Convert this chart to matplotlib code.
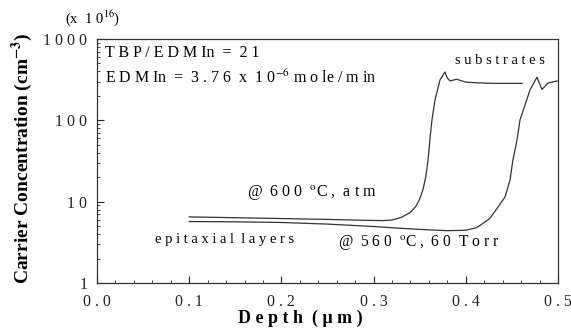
import matplotlib
matplotlib.use("Agg")
import matplotlib.pyplot as plt
from matplotlib.ticker import FixedLocator, NullFormatter, LogLocator

# Depth (um) / carrier concentration (x 1e16 cm^-3)
depth_600 = [0.100, 0.150, 0.200, 0.250, 0.290, 0.310, 0.320, 0.330, 0.340,
             0.346, 0.350, 0.3535, 0.3565, 0.359, 0.361, 0.3633, 0.3666,
             0.372, 0.3774, 0.380, 0.383, 0.390, 0.400, 0.410, 0.430, 0.461]
conc_600 = [6.5, 6.35, 6.2, 6.05, 5.9, 5.85, 5.95, 6.4, 7.4,
            8.8, 10.8, 14.0, 20.0, 32.0, 57.0, 101.0, 178.0,
            313.0, 393.0, 330.0, 305.0, 320.0, 295.0, 290.0, 285.0, 285.0]

depth_560 = [0.100, 0.150, 0.200, 0.250, 0.300, 0.330, 0.360, 0.380, 0.400,
             0.412, 0.426, 0.435, 0.4425, 0.448, 0.451, 0.4555, 0.4588,
             0.4696, 0.4772, 0.4826, 0.4892, 0.499]
conc_560 = [5.7, 5.65, 5.55, 5.3, 4.95, 4.7, 4.5, 4.4, 4.45,
            4.8, 6.2, 8.6, 11.4, 18.5, 32.0, 57.0, 101.0,
            236.0, 340.0, 240.0, 287.0, 305.0]

x_ticks = [0.0, 0.1, 0.2, 0.3, 0.4, 0.5]
y_ticks = [1, 10, 100, 1000]

SERIF = ["Liberation Serif", "DejaVu Serif"]
plt.rcParams["font.family"] = SERIF
plt.rcParams["mathtext.fontset"] = "stix"


def spaced(s):
    return " ".join(s)


fig = plt.figure(figsize=(5.71, 3.32), dpi=100)
W, H = 571.0, 332.0
ax = fig.add_axes([97 / W, 1 - 283 / H, (558 - 97) / W, (283 - 39) / H])

ax.plot(depth_600, conc_600, color="#333333", lw=0.9)
ax.plot(depth_560, conc_560, color="#333333", lw=0.9)

ax.set_yscale("log")
ax.set_xlim(0.0, 0.5)
ax.set_ylim(1, 1000)
ax.set_xticks(x_ticks)
ax.set_xticklabels([spaced(f"{v:.1f}") for v in x_ticks])
ax.xaxis.set_minor_locator(FixedLocator([i * 0.02 for i in range(26)]))
ax.set_yticks(y_ticks)
ax.set_yticklabels([spaced(str(v)) for v in y_ticks])
ax.yaxis.set_minor_locator(LogLocator(base=10, subs=range(2, 10)))
ax.yaxis.set_minor_formatter(NullFormatter())
ax.tick_params(which="both", direction="in", top=False, right=False,
               labelsize=11.5, colors="#222222")
ax.tick_params(which="major", length=5, width=0.8)
ax.tick_params(which="minor", length=2.5, width=0.6)
ax.tick_params(axis="x", which="major", pad=8)
ax.tick_params(axis="y", which="major", pad=7)
for sp in ax.spines.values():
    sp.set_linewidth(0.9)
    sp.set_color("#333333")

# axis labels
fig.text(300 / W, 1 - 318 / H, "D e p t h  ( μ m )", ha="center", va="center",
         fontsize=13, fontweight="bold")
fig.text(22 / W, 1 - 158 / H, "Carrier Concentration (cm$^{\\mathbf{-3}}$)",
         ha="center", va="center", rotation=90, fontsize=14, fontweight="bold")

# annotations
def note(px, py, s, size=10.5):
    fig.text(px / W, 1 - py / H, s, ha="left", va="center", fontsize=size)


note(65, 18, "(x  1 0$^{1 6}$)", size=10.5)
note(105, 53, "T B P / E D M In  =  2 1", size=11.5)
note(105, 78, "E D M In  =  3 . 7 6  x  1 0$^{-6}$ m o le / m in", size=11.5)
note(455, 60, spaced("substrates"))
note(247, 192, "@  6 0 0  $^{\\rm o}$C ,  a t m", size=11.5)
note(155, 240, "e p i t a x i a l  l a y e r s")
note(338, 243, "@  5 6 0  $^{\\rm o}$C ,  6 0  T o r r", size=11.2)

fig.savefig("out.png", dpi=100)
